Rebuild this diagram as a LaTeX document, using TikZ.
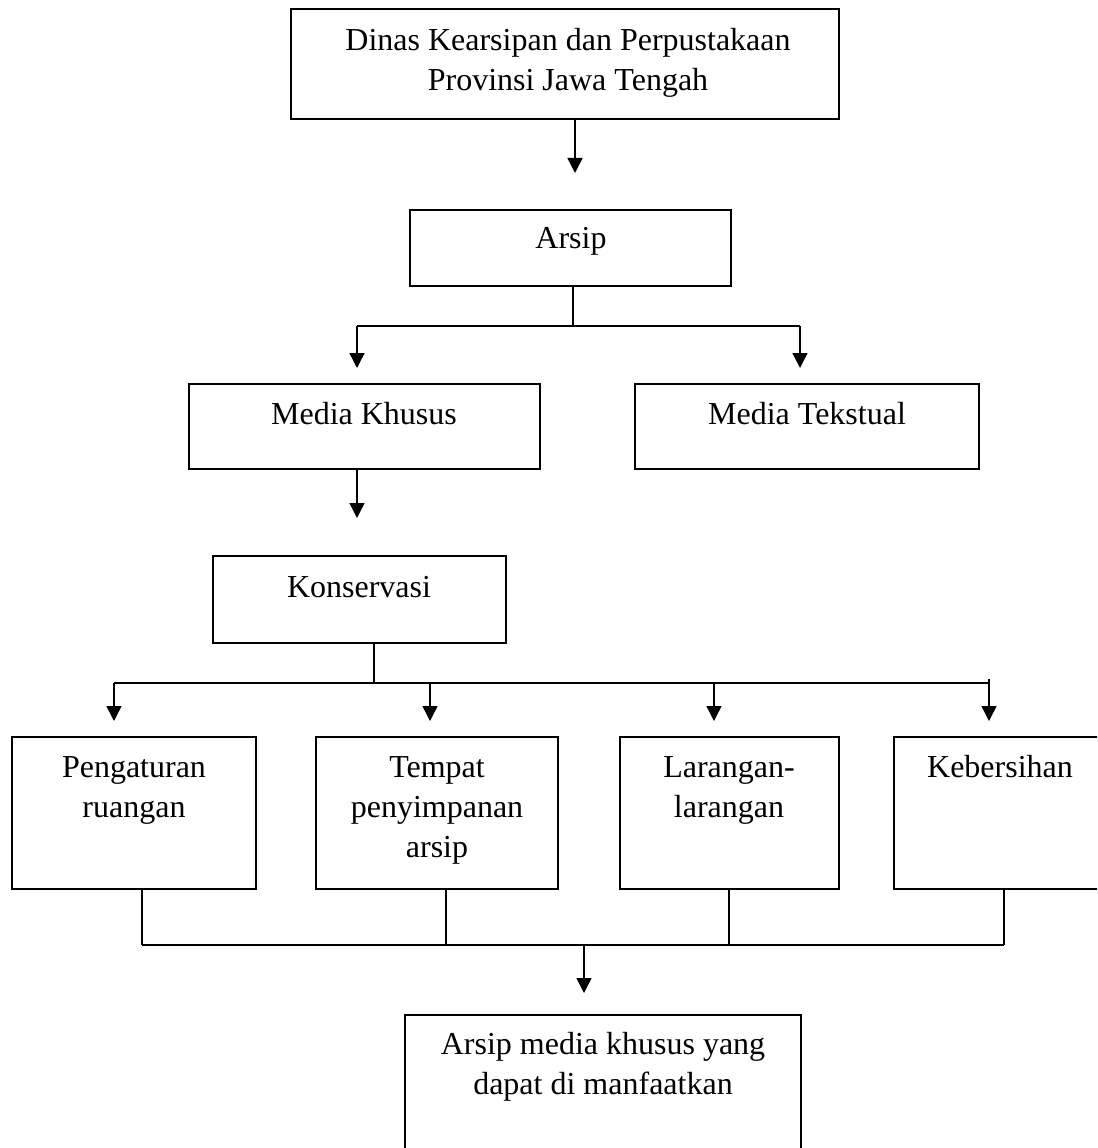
\documentclass[tikz,border=0pt]{standalone}
\usepackage{fontspec}
\setmainfont{Liberation Serif}
\usetikzlibrary{arrows.meta,fit}
\begin{document}
\begin{tikzpicture}[x=0.75pt,y=-0.75pt,
  box/.style={draw=black,line width=1.05pt,inner sep=0pt,rectangle},
  lbl/.style={inner sep=0pt,anchor=north,align=center,font=\fontsize{24}{30}\selectfont},
  arr/.style={line width=1.05pt,-{Triangle[length=11.25pt,width=11.25pt]}},
  vline/.style={line width=0.8pt},
  hline/.style={line width=1.3pt}]
\useasboundingbox (0,0) rectangle (1097,1148);
\clip (0,0) rectangle (1097,1148);
% boxes
\node[box,fit={(291,9) (839,119)}] (b0) {};
\node[box,fit={(410,210) (731,286)}] (b1) {};
\node[box,fit={(189,384) (540,469)}] (b2) {};
\node[box,fit={(635,384) (979,469)}] (b3) {};
\node[box,fit={(213,556) (506,643)}] (b4) {};
\node[box,fit={(12,737) (256,889)}] (b5) {};
\node[box,fit={(316,737) (558,889)}] (b6) {};
\node[box,fit={(620,737) (839,889)}] (b7) {};
\node[box,fit={(894,737) (1106,889)}] (b8) {};
\node[box,fit={(405,1015) (801,1170)}] (b9) {};
% texts (north = first baseline - 28px)
\node[lbl] (t0) at (568,22) {\strut Dinas Kearsipan dan Perpustakaan\\Provinsi Jawa Tengah};
\node[lbl] (t1) at (571,220) {\strut Arsip};
\node[lbl] (t2) at (364,396) {\strut Media Khusus};
\node[lbl] (t3) at (807,396) {\strut Media Tekstual};
\node[lbl] (t4) at (359,569) {\strut Konservasi};
\node[lbl] (t5) at (134,749) {\strut Pengaturan\\ruangan};
\node[lbl] (t6) at (437,749) {\strut Tempat\\penyimpanan\\arsip};
\node[lbl] (t7) at (729,749) {\strut Larangan-\\larangan};
\node[lbl] (t8) at (1000,749) {\strut Kebersihan};
\node[lbl] (t9) at (603,1026) {\strut Arsip media khusus yang\\dapat di manfaatkan};
% coordinates
\coordinate (a0) at (575,173);
\coordinate (j1) at (573,326);
\coordinate (a1L) at (357,368);
\coordinate (a1R) at (800,368);
\coordinate (a2) at (357,518);
\coordinate (j2) at (374,683);
\coordinate (k1) at (114,721);
\coordinate (k2) at (430,721);
\coordinate (k3) at (714,721);
\coordinate (k4) at (989,721);
\coordinate (k4s) at (989,679);
\coordinate (m1) at (142,945);
\coordinate (m2) at (446,945);
\coordinate (m3) at (729,945);
\coordinate (m4) at (1004,945);
\coordinate (a9) at (584,993);
% connectors
\draw[arr] (b0.south -| a0) -- (a0);
\draw[vline] (b1.south -| j1) -- (j1);
\draw[hline] (j1 -| a1L) -- (j1 -| a1R);
\draw[arr] (j1 -| a1L) -- (a1L);
\draw[arr] (j1 -| a1R) -- (a1R);
\draw[arr] (b2.south -| a2) -- (a2);
\draw[vline] (b4.south -| j2) -- (j2);
\draw[hline] (j2 -| k1) -- (j2 -| k4);
\draw[arr] (j2 -| k1) -- (k1);
\draw[arr] (j2 -| k2) -- (k2);
\draw[arr] (j2 -| k3) -- (k3);
\draw[arr] (k4s) -- (k4);
\draw[vline] (b5.south -| m1) -- (m1);
\draw[vline] (b6.south -| m2) -- (m2);
\draw[vline] (b7.south -| m3) -- (m3);
\draw[vline] (b8.south -| m4) -- (m4);
\draw[hline] (m1) -- (m4);
\draw[arr] (m1 -| a9) -- (a9);
\end{tikzpicture}
\end{document}
